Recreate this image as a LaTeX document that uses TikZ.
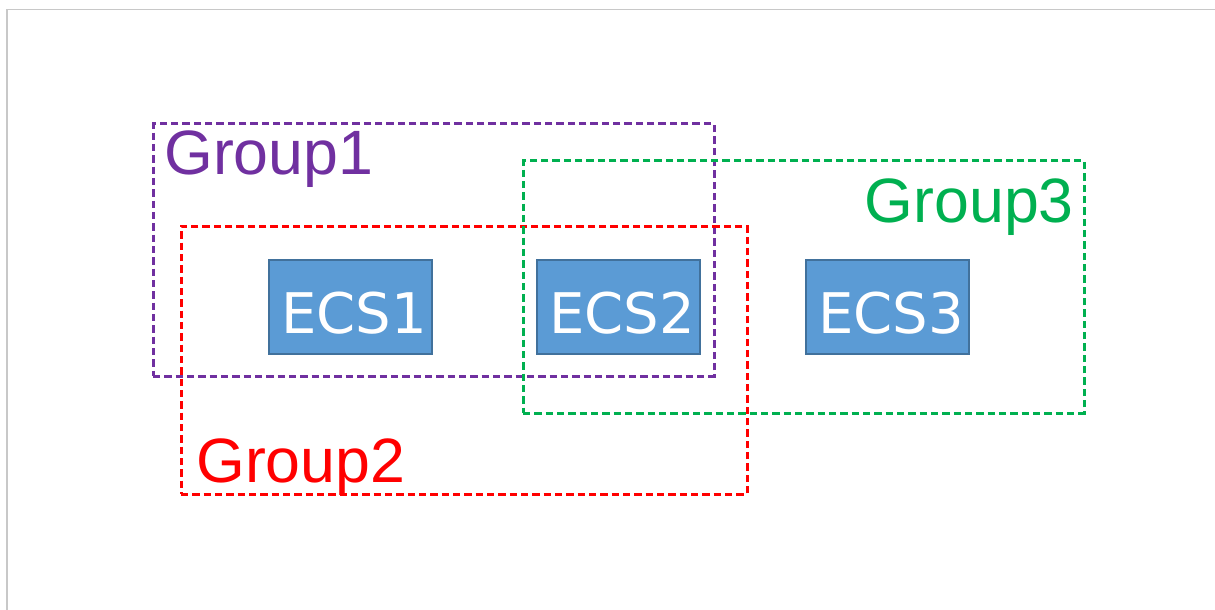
\documentclass[tikz,border=0pt]{standalone}
\usepackage{fontspec}
\setmainfont{Liberation Sans}
\newfontfamily\ecsfont{DejaVu Sans}
\usetikzlibrary{positioning}

\definecolor{ecsfill}{HTML}{5B9BD5}
\definecolor{ecsline}{HTML}{41719C}
\definecolor{gpurple}{HTML}{7030A0}
\definecolor{gred}{HTML}{FF0000}
\definecolor{ggreen}{HTML}{00B050}
\definecolor{framegray}{HTML}{C8C8C8}

\tikzset{
  ecs/.style={rectangle, draw=ecsline, fill=ecsfill, line width=1.5pt,
    minimum width=122.25pt, minimum height=70.5pt, inner sep=0pt,
    text=white, font=\ecsfont\fontsize{42}{42}\selectfont,
    text height=39pt, text depth=0pt, xshift=0pt},
  group/.style={rectangle, line width=2.25pt, dash pattern=on 5.5pt off 3pt,
    inner sep=0pt},
  grouplabel/.style={inner sep=0pt, font=\fontsize{47}{47}\selectfont}
}

\begin{document}
\begin{tikzpicture}[x=0.75pt, y=-0.75pt]
        \useasboundingbox (0,0) rectangle (1215,610);
        \draw[framegray, line width=1.2pt] (7,610) -- (7,9.5) -- (1215,9.5);
        % groups
        \node[group, draw=gpurple, minimum width=420.75pt, minimum height=189pt] (g1) at (433.5,250) {};
        \node[group, draw=gred, minimum width=424.5pt, minimum height=201pt] (g2) at (464,360) {};
        \node[group, draw=ggreen, minimum width=420.75pt, minimum height=189pt] (g3) at (803.5,287) {};
        % servers
        \node[ecs] (ecs1) at (350.5,307) {\hspace{5pt}ECS1};
        \node[ecs] (ecs2) at (618.5,307) {\hspace{5pt}ECS2};
        \node[ecs] (ecs3) at (887.5,307) {\hspace{5pt}ECS3};
        % labels
        \node[grouplabel, text=gpurple, anchor=base west] (l1) at (164,175) {Group1};
        \node[grouplabel, text=gred, anchor=base west] (l2) at (196,482) {Group2};
        \node[grouplabel, text=ggreen, anchor=base east] (l3) at (1074,222) {Group3};
    \end{tikzpicture}
\end{document}
